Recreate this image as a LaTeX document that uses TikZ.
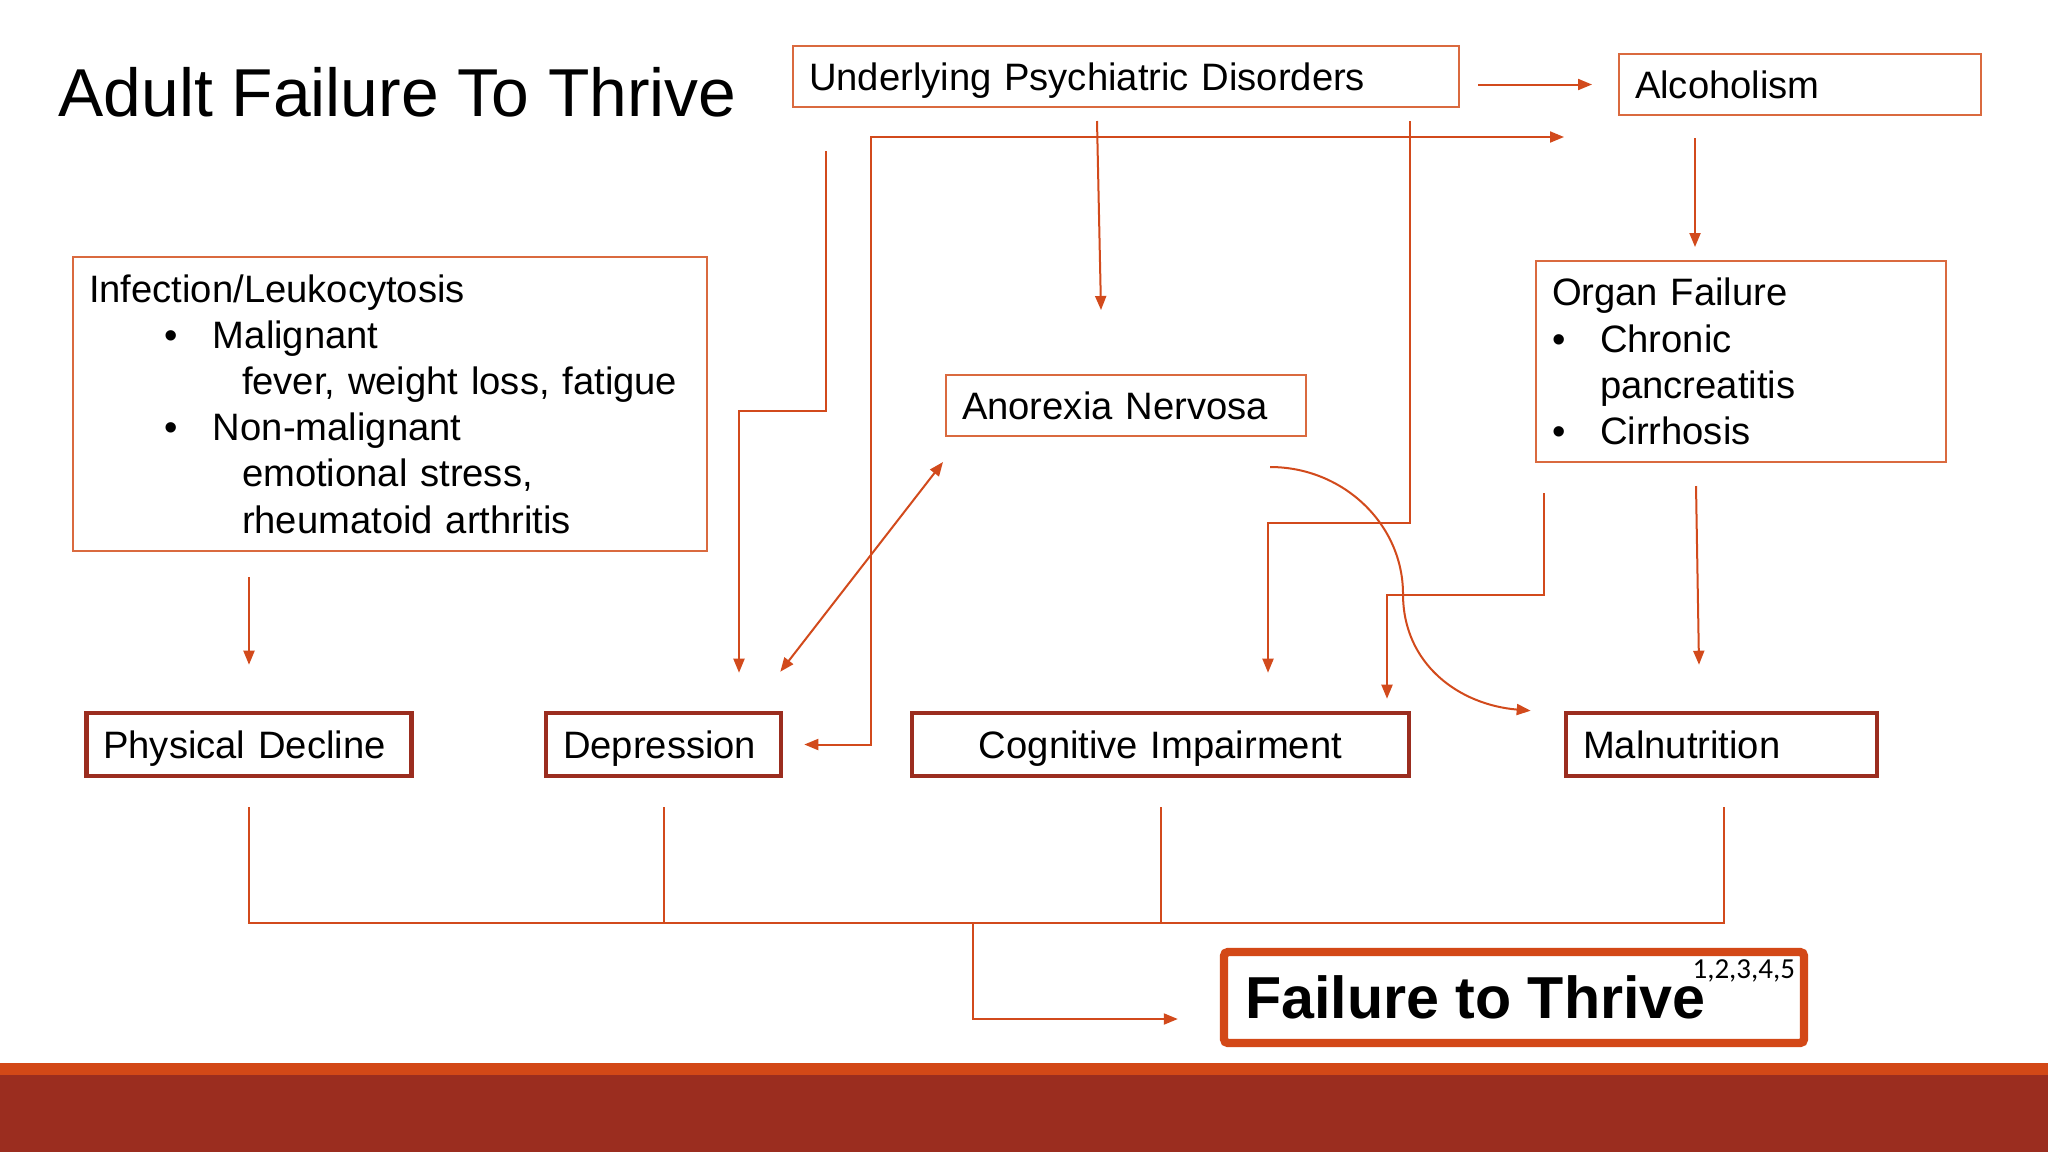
\documentclass[tikz,border=0pt]{standalone}
\usepackage{fontspec}
\setmainfont{Liberation Sans}
\newfontfamily\supfont{Carlito}
\newfontfamily\fttfont{Liberation Sans Bold}
\usetikzlibrary{arrows.meta,calc}
\definecolor{thinor}{HTML}{DA6A3F}
\definecolor{lnor}{HTML}{D24A1C}
\definecolor{dkred}{HTML}{9B2D1F}
\definecolor{fttor}{HTML}{D34817}
\definecolor{bandor}{HTML}{D34817}
\definecolor{bandred}{HTML}{9B2D1F}
\newcommand\mainsz{\fontsize{19.1pt}{23.1pt}\selectfont}
\newcommand\titlesz{\fontsize{33.9pt}{38pt}\selectfont}
\tikzset{
  thinbox/.style={draw=thinor, line width=1pt, fill=white, inner xsep=8pt, inner ysep=0pt, align=left, font=\mainsz},
  oneline/.style={text height=13.7pt, text depth=0pt},
  thickbox/.style={draw=dkred, line width=2.3pt, fill=white, inner xsep=8.5pt, inner ysep=0pt, align=left, font=\mainsz, minimum height=31.5pt, oneline},
  fttbox/.style={draw=fttor, line width=4.2pt, rounded corners=2pt, fill=white, inner xsep=10.5pt, inner ysep=0pt, minimum height=45.5pt, text height=21.2pt, text depth=0pt},
  ln/.style={draw=lnor, line width=1pt},
  arr/.style={ln, -{Triangle[length=7pt,width=5.5pt]}},
  arrtwo/.style={ln, {Triangle[length=7pt,width=5.5pt]}-{Triangle[length=7pt,width=5.5pt]}},
}
\begin{document}
\begin{tikzpicture}[x=0.5pt,y=-0.5pt]
\useasboundingbox (0,0) rectangle (2048,1152);
\fill[white] (0,0) rectangle (2048,1152);
% bottom bands
\fill[bandor] (0,1063) rectangle (2048,1075);
\fill[bandred] (0,1075) rectangle (2048,1152);

% title
\node[anchor=base west, font=\titlesz, inner sep=0pt] (title) at (58,116) {Adult Failure To Thrive};

% thin boxes
\node[thinbox, oneline, minimum height=30.5pt, text width=317pt] (und) at (1126,76.5) {Underlying Psychiatric Disorders};
\node[thinbox, oneline, minimum height=30.5pt, text width=165pt] (alc) at (1800,84.5) {Alcoholism};
\node[thinbox, minimum height=147pt, text width=301pt] (inf) at (390,404) {Infection/Leukocytosis\\
\hspace*{37.5pt}\makebox[24.5pt][l]{•}Malignant\\
\hspace*{76.5pt}fever, weight loss, fatigue\\
\hspace*{37.5pt}\makebox[24.5pt][l]{•}Non-malignant\\
\hspace*{76.5pt}emotional stress,\\
\hspace*{76.5pt}rheumatoid arthritis};
\node[thinbox, oneline, minimum height=30.5pt, text width=164pt] (ano) at (1126,405.5) {Anorexia Nervosa};
\node[thinbox, minimum height=100.5pt, text width=189pt] (org) at (1741,361.5) {Organ Failure\\
\makebox[24pt][l]{•}Chronic\\
\hspace*{24pt}pancreatitis\\
\makebox[24pt][l]{•}Cirrhosis};

% thick boxes
\node[thickbox, text width=145.75pt] (phys) at (249,744.5) {Physical Decline};
\node[thickbox, text width=100.5pt] (dep) at (663.5,744.5) {Depression};
\node[thickbox, text width=231.5pt, align=center] (cog) at (1160.5,744.5) {Cognitive Impairment};
\node[thickbox, text width=138.5pt] (mal) at (1721.5,744.5) {Malnutrition};

% final box
\node[fttbox] (ftt) at (1514,997.5) {\makebox[269pt][l]{\fttfont\fontsize{29.6pt}{31pt}\selectfont Failure\hspace{0.278em}to\hspace{0.278em}Thrive\hspace{-6.5pt}\rlap{\smash{\raisebox{20pt}{\supfont\fontsize{14.5pt}{15pt}\selectfont 1,2,3,4,5}}}}};

% connectors
\draw[arr] ($(und.east|-alc.west)+(18,0)$) -- ($(alc.west)+(-26,0)$);
\draw[arr] ($(und.south west)+(34,43)$) |- ($(dep.north)+(75.5,-300)$) -- ($(dep.north)+(75.5,-38)$);
\draw[arrtwo] ($(dep.east)+(21,0)$) -| ($(alc.south west)+(-747,21)$) -- ($(alc.south west)+(-54,21)$);
\draw[arr] ($(und.south)+(-29,13)$) -- ($(ano.north)+(-25,-64)$);
\draw[arr] ($(und.south east)+(-50,13)$) |- ($(cog.north)+(107.5,-188)$) -- ($(cog.north)+(107.5,-38)$);
\draw[arr] ($(alc.south)+(-105,22)$) -- ($(org.north)+(-46,-13)$);
\draw[arr] ($(org.south)+(-45,23)$) -- ($(mal.north)+(-22.5,-46)$);
\draw[arr] ($(org.south west)+(9,30)$) |- ($(cog.north)+(226.5,-116)$) -- ($(cog.north)+(226.5,-12)$);
\draw[arr] ($(ano.south east)+(-37,30)$) .. controls +(73,0) and +(0,-70) .. ++(133,127)
   .. controls +(0,70) and +(-72,-6) .. ($(mal.north west)+(-33,0)$);
\draw[arrtwo] ($(dep.north east)+(-3,-39)$) -- ($(ano.south west)+(-2,25)$);
\draw[arr] ($(phys.north|-inf.south)+(0,25)$) -- ($(phys.north)+(0,-46)$);

% bottom bus
\draw[ln] ($(phys.south)+(0,29)$) |- ($(mal.south)+(2.5,145)$) -- ($(mal.south)+(2.5,29)$);
\draw[ln] ($(dep.south)+(0,29)$) -- ($(dep.south)+(0,145)$);
\draw[ln] ($(cog.south)+(0,29)$) -- ($(cog.south)+(0,145)$);
\draw[arr] ($(phys.south)+(724,145)$) |- ($(ftt.west)+(-42,21.5)$);
\end{tikzpicture}
\end{document}
